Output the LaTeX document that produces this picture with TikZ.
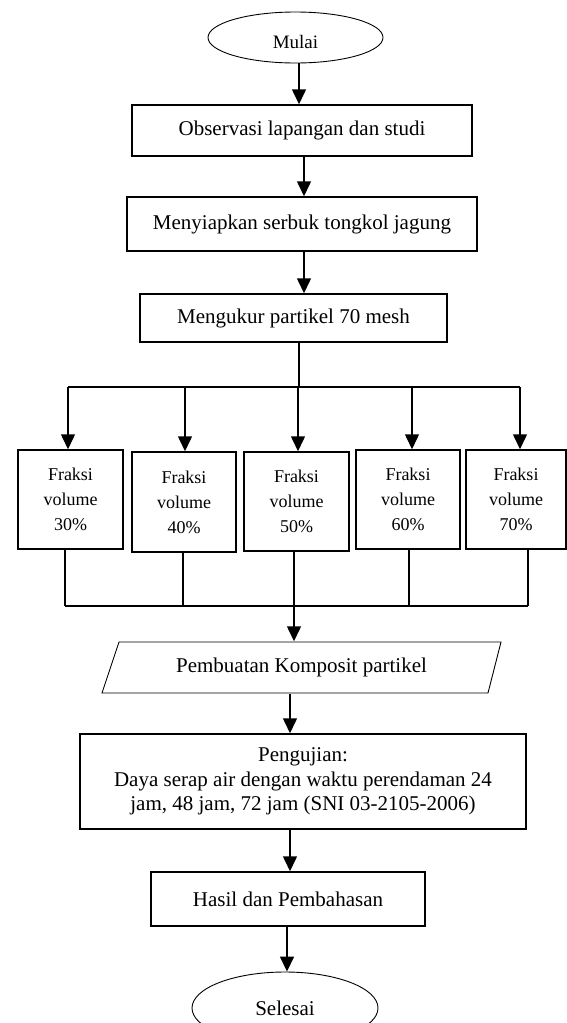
\documentclass[tikz,border=0pt]{standalone}
\usepackage{fontspec}
\setmainfont{Liberation Serif}
\usetikzlibrary{arrows.meta,shapes.geometric,calc}
\begin{document}
\begin{tikzpicture}[x=1pt,y=-1pt,
  line width=1.5pt,
  arr/.style={-{Triangle[width=14pt,length=15pt]}},
  box/.style={draw, rectangle, inner sep=0pt, align=center, font=\fontsize{21}{24.5}\selectfont},
  fbox/.style={draw, rectangle, inner sep=0pt, minimum width=105pt, minimum height=99pt, align=center, font=\fontsize{18}{25}\selectfont},
  term/.style={draw, ellipse, inner sep=0pt, line width=0.9pt},
  thinline/.style={line width=0.9pt}
]
\clip (0,0) rectangle (567,1023);

% nodes
\node[term, minimum width=175pt, minimum height=51pt, text height=22pt, text depth=0pt, font=\fontsize{19}{22}\selectfont] (m) at (295.5,37.5) {Mulai};
\node[box, minimum width=340pt, minimum height=51pt] (b1) at (302,130.5) {Observasi lapangan dan studi};
\node[box, minimum width=350pt, minimum height=54pt] (b2) at (302,224) {Menyiapkan serbuk tongkol jagung};
\node[box, minimum width=307pt, minimum height=48pt] (b3) at (293.5,318) {Mengukur partikel 70 mesh};

\node[fbox] (f1) at (70.5,499.5) {Fraksi\\volume\\30\%};
\node[fbox, minimum width=104pt, minimum height=100pt] (f2) at (184,502) {Fraksi\\volume\\40\%};
\node[fbox] (f3) at (296.5,501.5) {Fraksi\\volume\\50\%};
\node[fbox, minimum width=104pt] (f4) at (408,499.5) {Fraksi\\volume\\60\%};
\node[fbox, minimum width=100pt] (f5) at (516,499.5) {Fraksi\\volume\\70\%};

\node[inner sep=0pt, minimum width=370pt, minimum height=51pt, font=\fontsize{21}{24.5}\selectfont] (p) at (301.5,667.5) {Pembuatan Komposit partikel};
\draw[thinline] (102,693) -- (119,642) -- (501,642) -- (488,693) -- cycle;

\node[box, minimum width=446pt, minimum height=95pt] (t) at (303,781.5) {Pengujian:\\Daya serap air dengan waktu perendaman 24\\jam, 48 jam, 72 jam (SNI 03-2105-2006)};
\node[box, minimum width=274pt, minimum height=54pt] (h) at (288,899) {Hasil dan Pembahasan};
\node[term, minimum width=186pt, minimum height=72pt, font=\fontsize{21}{24}\selectfont] (s) at (285,1008) {Selesai};

% guide coordinates
\coordinate (xa) at (299,0);
\coordinate (xb) at (304,0);
\coordinate (xc) at (299,0);
\coordinate (xd) at (290,0);
\coordinate (xe) at (287,0);
\coordinate (bus) at (0,387);
\coordinate (bus2) at (0,606);
\coordinate (a1) at (68,0);
\coordinate (a2) at (185,0);
\coordinate (a3) at (298,0);
\coordinate (a4) at (412,0);
\coordinate (a5) at (520,0);
\coordinate (l1) at (65,0);
\coordinate (l2) at (183,0);
\coordinate (l3) at (294,0);
\coordinate (l4) at (409,0);
\coordinate (l5) at (528,0);

% connectors
\draw[arr] (m.south -| xa) -- (b1.north -| xa);
\draw[arr] (b1.south -| xb) -- (b2.north -| xb);
\draw[arr] (b2.south -| xb) -- (b3.north -| xb);

\draw (b3.south -| xc) -- (bus -| xc);
\draw (bus -| a1) -- (bus -| a5);
\draw[arr] (bus -| a1) -- (f1.north -| a1);
\draw[arr] (bus -| a2) -- (f2.north -| a2);
\draw[arr] (bus -| a3) -- (f3.north -| a3);
\draw[arr] (bus -| a4) -- (f4.north -| a4);
\draw[arr] (bus -| a5) -- (f5.north -| a5);

\draw (f1.south -| l1) -- (bus2 -| l1);
\draw (f2.south -| l2) -- (bus2 -| l2);
\draw (f4.south -| l4) -- (bus2 -| l4);
\draw (f5.south -| l5) -- (bus2 -| l5);
\draw (bus2 -| l1) -- (bus2 -| l5);
\draw[arr] (f3.south -| l3) -- (p.north -| l3);

\draw[arr] (p.south -| xd) -- (t.north -| xd);
\draw[arr] (t.south -| xd) -- (h.north -| xd);
\draw[arr] (h.south -| xe) -- (s.north -| xe);
\end{tikzpicture}
\end{document}
